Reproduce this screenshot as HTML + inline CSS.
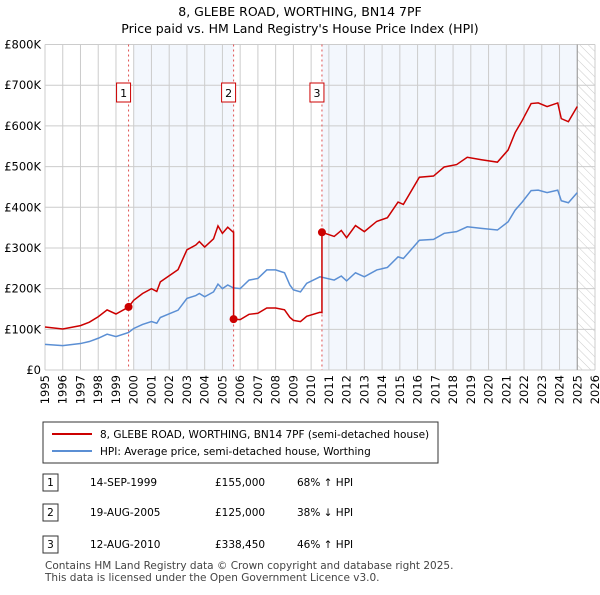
<!DOCTYPE html>
<html><head><meta charset="utf-8"><style>
body{margin:0;background:#fff;font-family:"Liberation Sans","DejaVu Sans",sans-serif;}
svg text{font-family:"DejaVu Sans","Liberation Sans",sans-serif;}
</style></head><body>
<svg id="c" width="600" height="590" xmlns="http://www.w3.org/2000/svg">
<text x="300" y="16" text-anchor="middle" font-size="12.5">8, GLEBE ROAD, WORTHING, BN14 7PF</text>
<text x="300" y="33" text-anchor="middle" font-size="12.5">Price paid vs. HM Land Registry's House Price Index (HPI)</text>
<defs><pattern id="hatch" width="6" height="6" patternUnits="userSpaceOnUse" patternTransform="rotate(-45)"><line x1="0" y1="0" x2="0" y2="6" stroke="#ccc" stroke-width="1"/></pattern></defs>
<g id="plot"></g>
<rect x="43" y="422" width="395" height="41" fill="#fff" stroke="#333"/>
<line x1="52" y1="434" x2="92" y2="434" stroke="#cc0000" stroke-width="2"/>
<text x="100" y="438" font-size="10.5">8, GLEBE ROAD, WORTHING, BN14 7PF (semi-detached house)</text>
<line x1="52" y1="451" x2="92" y2="451" stroke="#5b8fd4" stroke-width="2"/>
<text x="100" y="455" font-size="10.5">HPI: Average price, semi-detached house, Worthing</text>
<g font-size="10.5">
<rect x="43" y="474" width="15" height="17" fill="#fff" stroke="#333"/><text x="50.5" y="486" text-anchor="middle">1</text>
<text x="90" y="486">14-SEP-1999</text><text x="215" y="486">£155,000</text><text x="297" y="486">68% ↑ HPI</text>
<rect x="43" y="504" width="15" height="17" fill="#fff" stroke="#333"/><text x="50.5" y="516" text-anchor="middle">2</text>
<text x="90" y="516">19-AUG-2005</text><text x="215" y="516">£125,000</text><text x="297" y="516">38% ↓ HPI</text>
<rect x="43" y="536" width="15" height="17" fill="#fff" stroke="#333"/><text x="50.5" y="548" text-anchor="middle">3</text>
<text x="90" y="548">12-AUG-2010</text><text x="215" y="548">£338,450</text><text x="297" y="548">46% ↑ HPI</text>
</g>
<text x="45" y="569" font-size="10.5" fill="#444">Contains HM Land Registry data © Crown copyright and database right 2025.</text>
<text x="45" y="581" font-size="10.5" fill="#444">This data is licensed under the Open Government Licence v3.0.</text>
</svg>
<script>
const hpiDates=[1995,1996,1997,1997.5,1998,1998.5,1999,1999.7,2000,2000.5,2001,2001.3,2001.5,2002,2002.5,2003,2003.5,2003.7,2004,2004.5,2004.75,2005,2005.3,2005.6,2006,2006.5,2007,2007.5,2008,2008.5,2008.8,2009,2009.4,2009.75,2010.5,2011.3,2011.7,2012,2012.5,2013,2013.7,2014.3,2014.9,2015.2,2016.1,2016.9,2017.5,2018.2,2018.8,2019.6,2020.5,2021.1,2021.5,2021.9,2022.4,2022.8,2023.3,2023.9,2024.1,2024.5,2025.0];
const hpiValues=[63,60,65,70,78,88,82,92,102,112,119,115,129,138,147,176,183,188,180,192,211,200,209,202,200,221,225,246,246,239,209,197,192,213,229,221,231,219,239,229,246,252,278,274,319,321,336,340,352,348,344,364,393,413,441,442,436,442,416,411,436];
const saleDates=[1999.71,2005.63,2010.61];
const salePrices=[155,125,338.45];
const saleLabels=["1","2","3"];
const yTicks=[0,100,200,300,400,500,600,700,800];
const yTickLabels=["£0","£100K","£200K","£300K","£400K","£500K","£600K","£700K","£800K"];
const xYears=[1995,1996,1997,1998,1999,2000,2001,2002,2003,2004,2005,2006,2007,2008,2009,2010,2011,2012,2013,2014,2015,2016,2017,2018,2019,2020,2021,2022,2023,2024,2025,2026];
const X0=45,X1=595,Y0=370,Y1=44.5;
const xs=t=>X0+(t-1995)/(2026-1995)*(X1-X0);
const ys=v=>Y0-v/800*(Y0-Y1);
const NS="http://www.w3.org/2000/svg";
const g=document.getElementById('plot');
function mk(tag,attrs){const e=document.createElementNS(NS,tag);for(const k in attrs)e.setAttribute(k,attrs[k]);g.appendChild(e);return e;}
function hpiAt(t){for(let i=0;i<hpiDates.length-1;i++){if(t>=hpiDates[i]&&t<=hpiDates[i+1]){const f=(t-hpiDates[i])/(hpiDates[i+1]-hpiDates[i]);return hpiValues[i]+f*(hpiValues[i+1]-hpiValues[i]);}}return hpiValues[hpiValues.length-1];}
let r=mk('rect',{x:xs(2000),y:Y1,width:xs(saleDates[1])-xs(2000),height:Y0-Y1,fill:'#eef3fc',opacity:0.7});


r=mk('rect',{x:xs(saleDates[2]),y:Y1,width:xs(2025)-xs(saleDates[2]),height:Y0-Y1,fill:'#eef3fc',opacity:0.7});


r=mk('rect',{x:xs(2025),y:Y1,width:X1-xs(2025),height:Y0-Y1,fill:'url(#hatch)'});


yTicks.forEach((v,i)=>{
 const l=mk('line',{x1:X0,x2:X1,y1:ys(v),y2:ys(v),stroke:'#ccc','stroke-width':1});
 
 
 const t=mk('text',{x:X0-4,y:ys(v)+4,'text-anchor':'end','font-size':11.5});
 t.textContent=yTickLabels[i];
 
 
});
xYears.forEach(y=>{
 const l=mk('line',{x1:xs(y),x2:xs(y),y1:Y1,y2:Y0,stroke:'#ccc','stroke-width':1});
 
 
 const t=mk('text',{x:0,y:0,'text-anchor':'end','font-size':11.5,transform:`translate(${xs(y)+4},${Y0+5}) rotate(-90)`});
 t.textContent=y;
 
 
});
let b=mk('line',{x1:xs(2025),x2:xs(2025),y1:Y1,y2:Y0,stroke:'#999','stroke-width':1});


saleDates.forEach((d,i)=>{
 const l=mk('line',{x1:xs(d),x2:xs(d),y1:Y1,y2:Y0,stroke:'#e05050','stroke-width':1,'stroke-dasharray':'2,3'});
 
 
 const bx=mk('rect',{x:xs(d)-12,y:83,width:14,height:19,fill:'#fff',stroke:'#cc0000'});
 
 
 const tx=mk('text',{x:xs(d)-5,y:97,'text-anchor':'middle','font-size':11});
 tx.textContent=saleLabels[i];
 
 
});
const hp=mk('polyline',{points:hpiDates.map((d,i)=>xs(d)+','+ys(hpiValues[i])).join(' '),fill:'none',stroke:'#5b8fd4','stroke-width':1.5});


let pts=[];
const bounds=[1995,saleDates[1],saleDates[2],2025.01];
for(let s=0;s<3;s++){
 const k=salePrices[s]/hpiAt(saleDates[s]);
 const a=bounds[s],e=bounds[s+1];
 if(s>0)pts.push([a,hpiAt(a)*k]);
 hpiDates.forEach((d,i)=>{if(d>=a&&d<e)pts.push([d,hpiValues[i]*k]);});
 if(s<2)pts.push([e,hpiAt(e)*k]);
}
const rp=mk('polyline',{points:pts.map(p=>xs(p[0])+','+ys(p[1])).join(' '),fill:'none',stroke:'#cc0000','stroke-width':1.5});


saleDates.forEach((d,i)=>{
 const c=mk('circle',{cx:xs(d),cy:ys(salePrices[i]),r:4,fill:'#cc0000'});
 
 
});
</script>
</body></html>
